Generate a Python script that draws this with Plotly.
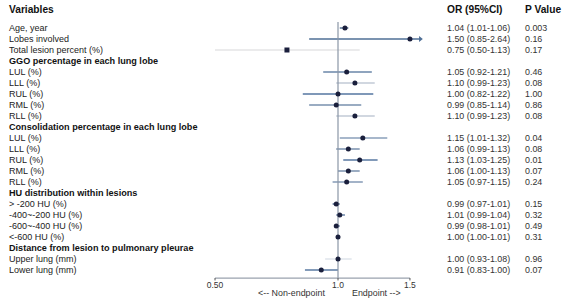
import math
import plotly.graph_objects as go

# ---------------- data ----------------
labels = [
    "Age, year", "Lobes involved", "Total lesion percent (%)",
    "GGO percentage in each lung lobe",
    "LUL (%)", "LLL (%)", "RUL (%)", "RML (%)", "RLL (%)",
    "Consolidation percentage in each lung lobe",
    "LUL (%)", "LLL (%)", "RUL (%)", "RML (%)", "RLL (%)",
    "HU distribution within lesions",
    "> -200 HU (%)", "-400~-200 HU (%)", "-600~-400 HU (%)", "<-600 HU (%)",
    "Distance from lesion to pulmonary pleurae",
    "Upper lung (mm)", "Lower lung (mm)",
]
is_header = [False, False, False, True, False, False, False, False, False,
             True, False, False, False, False, False,
             True, False, False, False, False, True, False, False]
odds = [1.04, 1.50, 0.75, None, 1.05, 1.10, 1.00, 0.99, 1.10, None,
        1.15, 1.06, 1.13, 1.06, 1.05, None, 0.99, 1.01, 0.99, 1.00, None, 1.00, 0.91]
lower = [1.01, 0.85, 0.50, None, 0.92, 0.99, 0.82, 0.85, 0.99, None,
         1.01, 0.99, 1.03, 1.00, 0.97, None, 0.97, 0.99, 0.98, 1.00, None, 0.93, 0.83]
upper = [1.06, 2.64, 1.13, None, 1.21, 1.23, 1.22, 1.14, 1.23, None,
         1.32, 1.13, 1.25, 1.13, 1.15, None, 1.01, 1.04, 1.01, 1.01, None, 1.08, 1.00]
or_text = ["1.04 (1.01-1.06)", "1.50 (0.85-2.64)", "0.75 (0.50-1.13)", "",
           "1.05 (0.92-1.21)", "1.10 (0.99-1.23)", "1.00 (0.82-1.22)", "0.99 (0.85-1.14)", "1.10 (0.99-1.23)", "",
           "1.15 (1.01-1.32)", "1.06 (0.99-1.13)", "1.13 (1.03-1.25)", "1.06 (1.00-1.13)", "1.05 (0.97-1.15)", "",
           "0.99 (0.97-1.01)", "1.01 (0.99-1.04)", "0.99 (0.98-1.01)", "1.00 (1.00-1.01)", "",
           "1.00 (0.93-1.08)", "0.91 (0.83-1.00)"]
p_text = ["0.003", "0.16", "0.17", "", "0.46", "0.08", "1.00", "0.86", "0.08", "",
          "0.04", "0.08", "0.01", "0.07", "0.24", "", "0.15", "0.32", "0.49", "0.31", "",
          "0.96", "0.07"]
tick_vals = [0.5, 1.0, 1.5]
tick_text = ["0.50", "1.0", "1.5"]

# per-row CI line colours (weight shading)
ci_colors = ["#4d6a8e", "#4f6f96", "#e4e4e6", None, "#6a86a8", "#c2cad6", "#5576a0", "#7890ae", "#c2cad6", None,
             "#8a9fba", "#7088a8", "#5878a2", "#7088a8", "#7c92b0", None,
             "#4d6a8e", "#5d7aa0", "#5d7aa0", "#5d7aa0", None, "#dde2ea", "#5a7aa2"]

X_CAP = 1.59  # visible end of the axis area for the arrow

fig = go.Figure()

rows = list(range(len(labels)))

# CI lines
for i in rows:
    if is_header[i]:
        continue
    hi = min(upper[i], X_CAP)
    fig.add_trace(go.Scatter(x=[lower[i], hi], y=[i, i], mode="lines",
                             line=dict(color=ci_colors[i], width=1.4),
                             showlegend=False, hoverinfo="skip"))
    if upper[i] > X_CAP:
        fig.add_trace(go.Scatter(x=[hi], y=[i], mode="markers",
                                 marker=dict(symbol="triangle-right", size=5, color=ci_colors[i]),
                                 showlegend=False, hoverinfo="skip"))

# reference line at 1
fig.add_trace(go.Scatter(x=[1, 1], y=[-0.55, 22.73], mode="lines",
                         line=dict(color="#8a96a6", width=1.2), showlegend=False, hoverinfo="skip"))
# x axis line
fig.add_trace(go.Scatter(x=[tick_vals[0], tick_vals[-1]], y=[22.73, 22.73], mode="lines",
                         line=dict(color="#9aa2ae", width=1.2), showlegend=False, hoverinfo="skip"))
# tick marks
for v in tick_vals:
    fig.add_trace(go.Scatter(x=[v, v], y=[22.73, 22.95], mode="lines",
                             line=dict(color="#555", width=1), showlegend=False, hoverinfo="skip"))
fig.add_trace(go.Scatter(x=tick_vals, y=[23.45] * 3, mode="text", text=tick_text,
                         textfont=dict(family="Liberation Sans, Arial", size=8.5, color="#333"),
                         showlegend=False, hoverinfo="skip"))

# points
px_ = [odds[i] for i in rows if not is_header[i]]
py_ = [i for i in rows if not is_header[i]]
sym = ["square" if labels[i].startswith("Total") else "circle" for i in py_]
fig.add_trace(go.Scatter(x=px_, y=py_, mode="markers",
                         marker=dict(symbol=sym, size=5, color="#1a1f3c"),
                         showlegend=False, hoverinfo="skip"))

font_lbl = dict(family="Liberation Sans, Arial", size=9, color="#222")
font_num = dict(family="Liberation Sans, Arial", size=8.9, color="#333")

for i in rows:
    if is_header[i]:
        fig.add_annotation(x=7 / 564, y=i, xref="paper", yref="y", text="<b>" + labels[i] + "</b>",
                           showarrow=False, xanchor="left", yanchor="middle",
                           font=dict(family="Liberation Sans, Arial", size=9.1, color="#111"))
    else:
        fig.add_annotation(x=7 / 564, y=i, xref="paper", yref="y", text=labels[i],
                           showarrow=False, xanchor="left", yanchor="middle", font=font_lbl)
        fig.add_annotation(x=445 / 564, y=i, xref="paper", yref="y", text=or_text[i],
                           showarrow=False, xanchor="left", yanchor="middle", font=font_num)
        fig.add_annotation(x=523 / 564, y=i, xref="paper", yref="y", text=p_text[i],
                           showarrow=False, xanchor="left", yanchor="middle", font=font_num)

# column headers
for xx, t in [(7, "Variables"), (445, "OR (95%CI)"), (523, "P Value")]:
    fig.add_annotation(x=xx / 564, y=-1.65, xref="paper", yref="y", text="<b>" + t + "</b>",
                       showarrow=False, xanchor="left", yanchor="middle",
                       font=dict(family="Liberation Sans, Arial", size=10.2, color="#111"))

# direction labels
fig.add_annotation(x=327 / 564, y=24.1, xref="paper", yref="y", text="<-- Non-endpoint",
                   showarrow=False, xanchor="right", yanchor="middle", font=font_num)
fig.add_annotation(x=350 / 564, y=24.1, xref="paper", yref="y", text="Endpoint -->",
                   showarrow=False, xanchor="left", yanchor="middle", font=font_num)

# axis mapping: 1.0 at px 338, 123 px per doubling
ppd = 123 / math.log10(2)
x_lo = -338 / ppd
x_hi = (564 - 338) / ppd
fig.update_xaxes(type="log", range=[x_lo, x_hi], visible=False, domain=[0, 1])
fig.update_yaxes(range=[(302 - 28) / 11, -28 / 11], visible=False, domain=[0, 1])
fig.update_layout(width=564, height=302, margin=dict(l=0, r=0, t=0, b=0),
                  paper_bgcolor="white", plot_bgcolor="white")
fig.write_html("out.html", config={"displayModeBar": False, "staticPlot": True},
               post_script="document.body.style.margin='0';document.body.style.padding='0';")
